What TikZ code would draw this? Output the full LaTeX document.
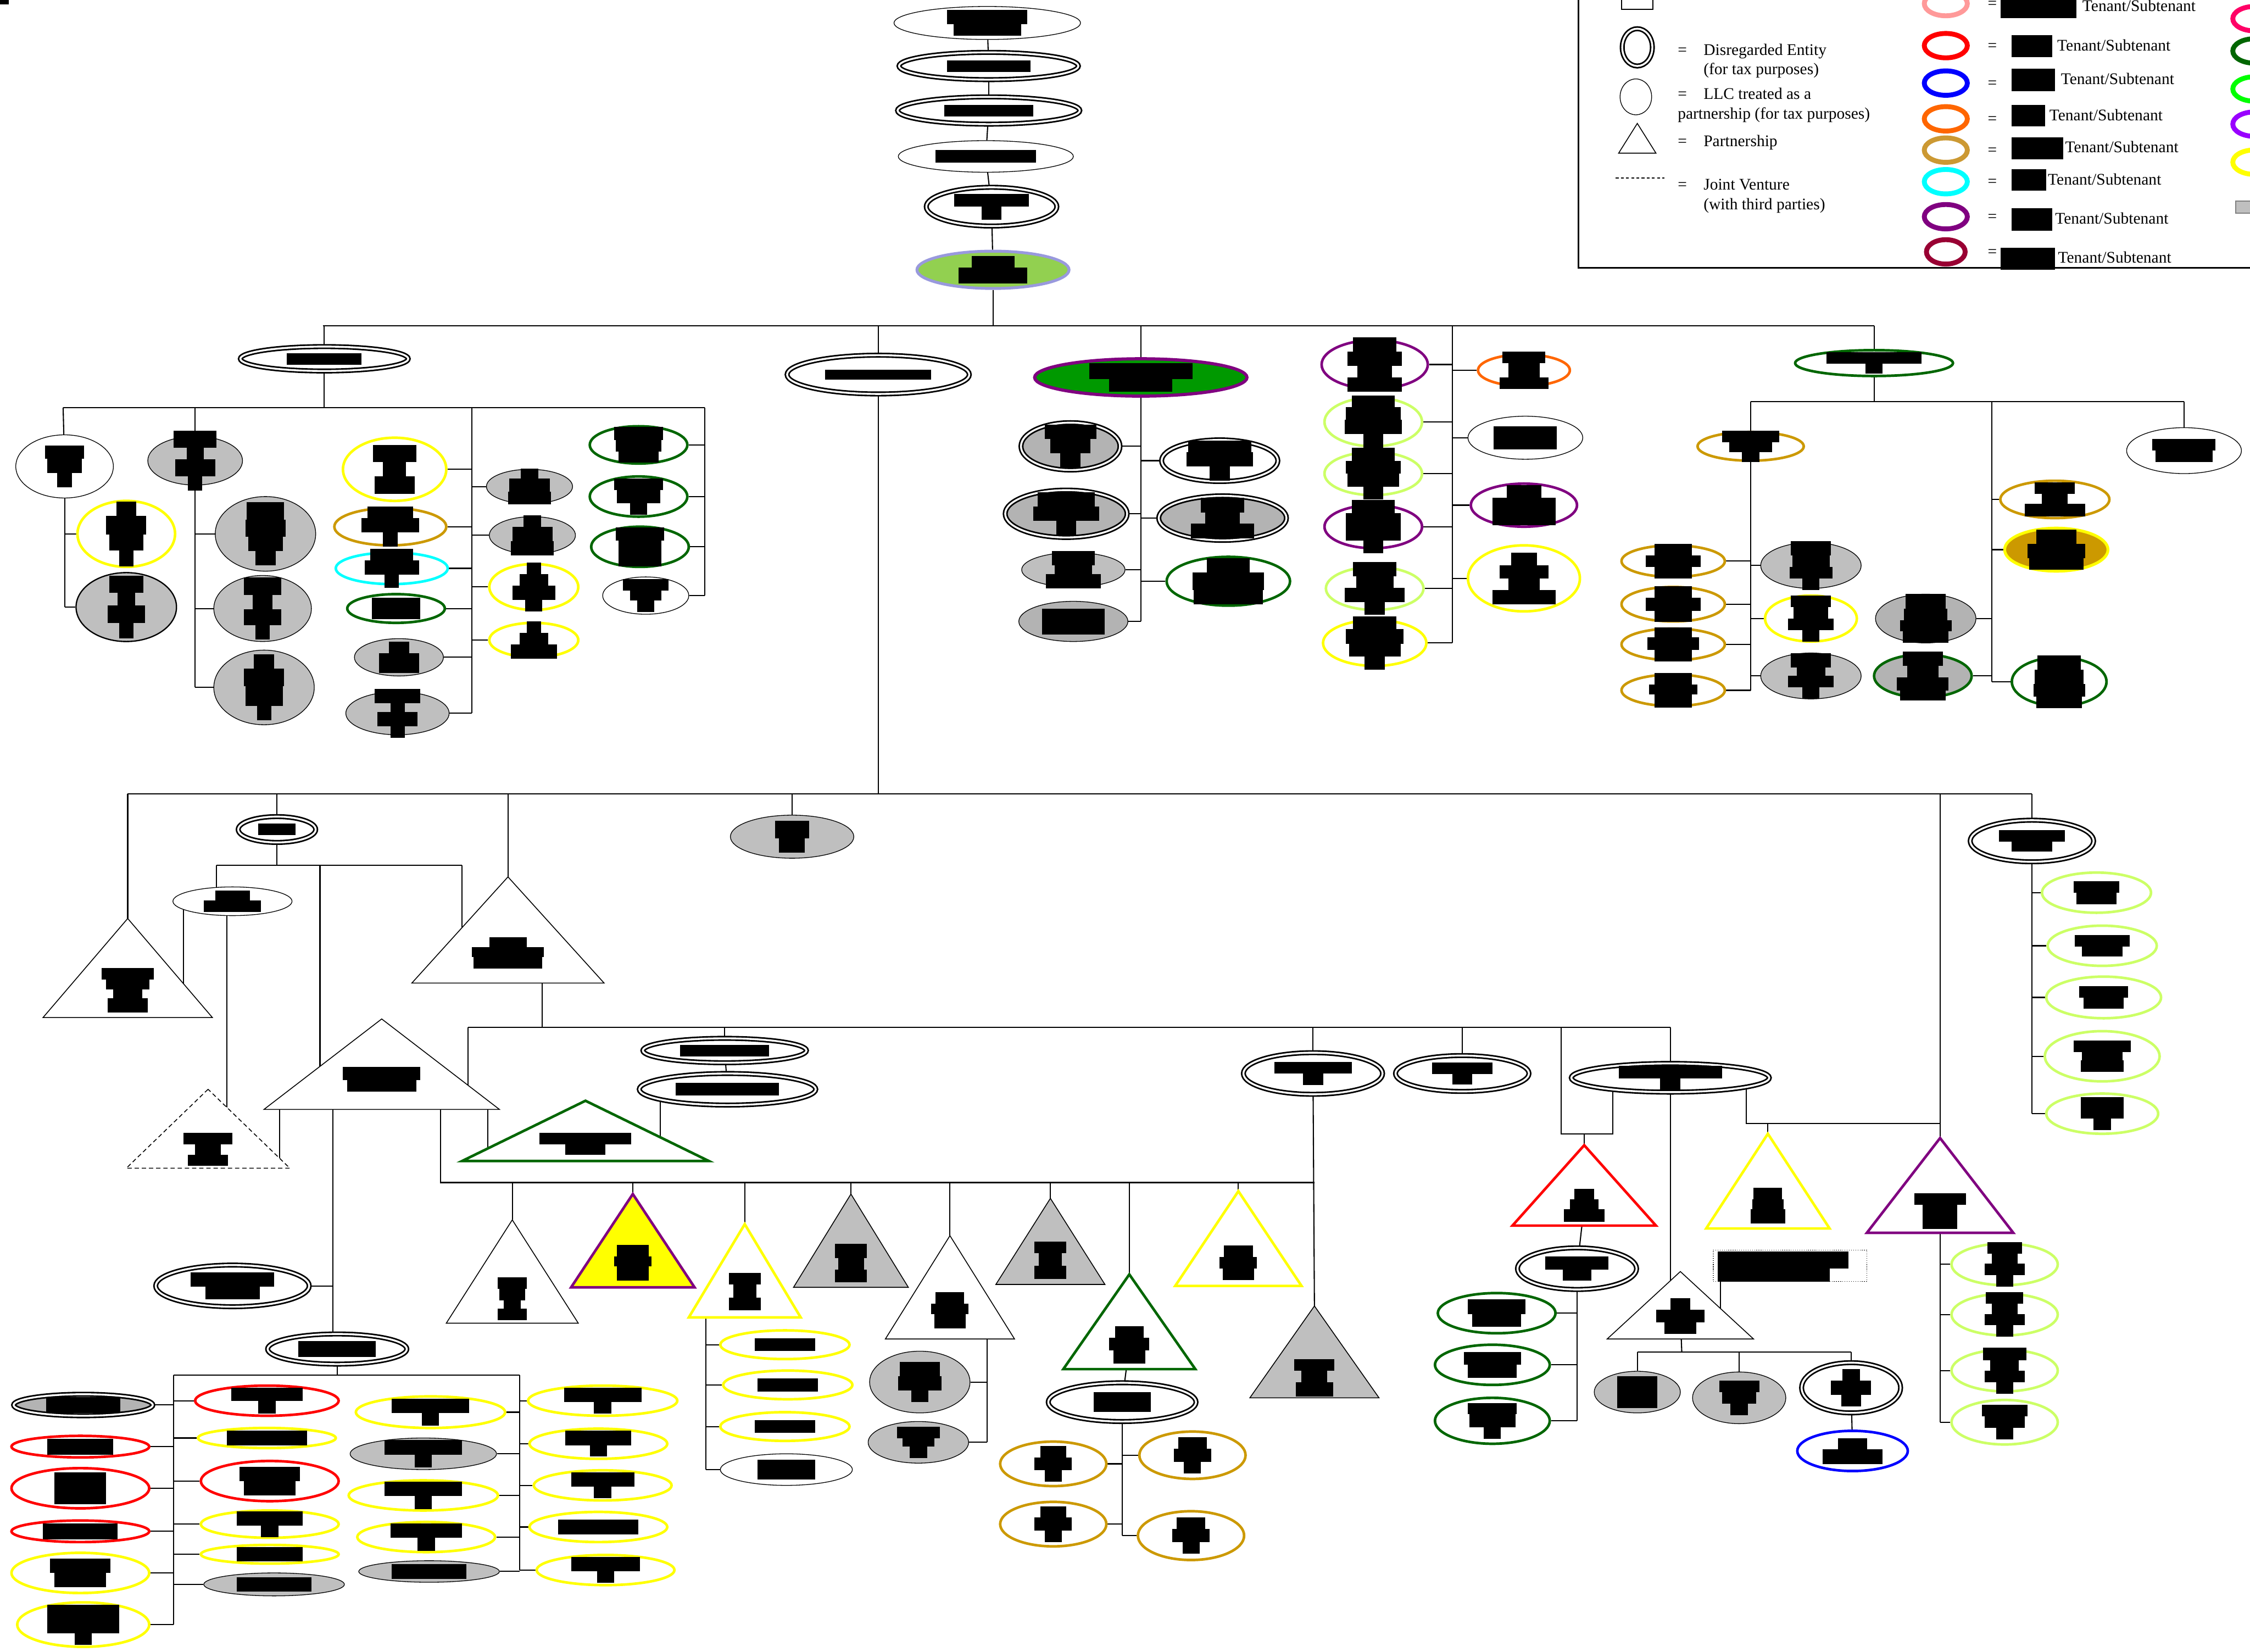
\documentclass[tikz,border=0pt]{standalone}
\usepackage{fontspec}
\setmainfont{Liberation Serif}
\usetikzlibrary{shapes.geometric,backgrounds}
\definecolor{gry}{RGB}{191,191,191}
\definecolor{gry2}{RGB}{179,179,179}
\definecolor{ctan}{RGB}{204,153,0}
\definecolor{ctanL}{RGB}{204,153,51}
\definecolor{dgreen}{RGB}{0,102,0}
\definecolor{lgreen}{RGB}{204,255,102}
\definecolor{purp}{RGB}{128,0,128}
\definecolor{orng}{RGB}{255,102,0}
\definecolor{gfill}{RGB}{0,153,0}
\definecolor{tgreen}{RGB}{146,208,80}
\definecolor{lav}{RGB}{153,153,221}
\definecolor{cpink}{RGB}{255,153,153}
\definecolor{dred}{RGB}{153,0,51}
\definecolor{cmag}{RGB}{255,0,102}
\definecolor{bgreen}{RGB}{0,255,0}
\definecolor{viol}{RGB}{153,0,255}
\definecolor{ccyan}{RGB}{0,255,255}
\definecolor{cyel}{RGB}{255,255,0}
\tikzset{
  ent/.style={ellipse,inner sep=0pt,draw=black,line width=0.5pt,fill=white},
  gr/.style={ellipse,inner sep=0pt,draw=black,line width=0.5pt,fill=gry},
  grb/.style={ellipse,inner sep=0pt,draw=black,line width=0.9pt,fill=gry},
  gr2/.style={ellipse,inner sep=0pt,draw=black,line width=0.5pt,fill=gry2},
  de/.style={ellipse,inner sep=0pt,draw=black,line width=1.1pt,double=white,double distance=1.3pt,fill=white},
  degr/.style={de,fill=gry2},
  ring/.style={ellipse,inner sep=0pt,draw=#1,line width=1.8pt,fill=white},
  gring/.style={ellipse,inner sep=0pt,draw=#1,line width=1.8pt,fill=gry2},
  topg/.style={ellipse,inner sep=0pt,draw=lav,line width=2pt,fill=tgreen},
  gtop/.style={ellipse,inner sep=0pt,draw=purp,line width=2.2pt,fill=gfill},
  tanfill/.style={ellipse,inner sep=0pt,draw=cyel,line width=2pt,fill=ctan},
  triw/.style={draw=black,line width=0.6pt,fill=white},
  trid/.style={draw=black,line width=0.6pt,fill=white,dash pattern=on 3pt off 2pt},
  trig/.style={draw=black,line width=0.6pt,fill=gry},
  tric/.style={draw=#1,line width=1.8pt,fill=white},
  trip/.style={draw=purp,line width=1.8pt,fill=cyel},
  lgt/.style={anchor=base west,inner sep=0pt,font=\fontsize{11.3}{13.5}\selectfont},
  lring/.style={ellipse,inner sep=0pt,draw=#1,line width=3.4pt,minimum width=30pt,minimum height=17pt},
  conn/.style={line width=0.8pt}
}
\newcommand\En[6]{\node[#6,minimum width=#4pt,minimum height=#5pt] (#1) at (#2,#3) {};}
\newcommand\Tri[7]{\coordinate (#1) at (#2,#3); \coordinate (#1-l) at ({#2-#5},#4); \coordinate (#1-r) at ({#2+#5},#4); \coordinate (#1c) at (#2,#7); \path[#6] (#1) -- (#1-l) -- (#1-r) -- cycle;}
\newcommand\blkR[3]{\fill[black] ([shift={({-(#2)/2},{-(#3)/2})}]#1.center) rectangle ++(#2,#3);}
\newcommand\blkB[5]{\path (#1.center) ++(0,{-(#3+#5)/2}) coordinate (bk);
  \fill[black] (bk) ++({-(#2)/2},0) rectangle ++(#2,#3);
  \fill[black] (bk) ++({-(#4)/2},#3) rectangle ++(#4,#5);}
\newcommand\blkC[7]{\path (#1.center) ++(0,{-(#3+#5+#7)/2}) coordinate (bk);
  \fill[black] (bk) ++({-(#2)/2},0) rectangle ++(#2,#3);
  \fill[black] (bk) ++({-(#4)/2},#3) rectangle ++(#4,#5);
  \fill[black] (bk) ++({-(#6)/2},{#3+#5}) rectangle ++(#6,#7);}
\newcommand\blkD[9]{\path (#1.center) ++(0,{-(#3+#5+#7+#9)/2}) coordinate (bk);
  \fill[black] (bk) ++({-(#2)/2},0) rectangle ++(#2,#3);
  \fill[black] (bk) ++({-(#4)/2},#3) rectangle ++(#4,#5);
  \fill[black] (bk) ++({-(#6)/2},{#3+#5}) rectangle ++(#6,#7);
  \fill[black] (bk) ++({-(#8)/2},{#3+#5+#7}) rectangle ++(#8,#9);}
\begin{document}
\begin{tikzpicture}[x=1pt,y=-1pt]
\useasboundingbox (0,0) rectangle (1568,1151);
\begin{pgfonlayer}{background}
\fill[white] (0,0) rectangle (1568,1151);
\end{pgfonlayer}
\fill[black] (0,0) rectangle (6,3);
% ---------------- top chain
\En{E1}{688}{16}{130}{23}{ent} \blkB{E1}{56}{10}{47}{8}
\En{E2}{689}{46}{125}{19}{de} \blkR{E2}{58}{8}
\En{E3}{689}{77}{127}{19}{de} \blkR{E3}{62}{8}
\En{E4}{687}{109}{122}{22}{ent} \blkR{E4}{70}{9}
\En{E5}{691}{144}{91}{27}{de} \blkB{E5}{52}{9}{14}{9}
\En{E6}{692}{188}{106}{26}{topg} \blkB{E6}{30}{8}{48}{11}
\coordinate (bAl) at (225,227); \coordinate (bAr) at (1306,227); \coordinate (pB) at (1012,227);
% ---------------- left group
\En{L1}{226}{250}{117}{17}{de} \blkR{L1}{52}{8}
\coordinate (lBl) at (44,284); \coordinate (lBr) at (491,284); \coordinate (lC) at (329,284);
\En{L2}{45}{325}{68}{44}{ent} \blkC{L2}{27}{9}{24}{10}{10}{10}
\En{L3}{88}{372}{68}{46}{ring=cyel} \blkD{L3}{14}{10}{28}{13}{24}{11}{10}{11}
\En{L4}{88}{423}{70}{48}{grb} \blkD{L4}{24}{12}{12}{9}{26}{12}{10}{11}
\En{L5}{136}{321}{66}{34}{gr} \blkD{L5}{30}{12}{12}{8}{28}{12}{10}{10}
\En{L6}{185}{372}{70}{52}{gr} \blkD{L6}{26}{12}{28}{12}{24}{10}{14}{10}
\En{L7}{183}{424}{68}{46}{gr} \blkD{L7}{26}{12}{14}{10}{26}{11}{10}{10}
\En{L8}{184}{479}{70}{52}{gr} \blkD{L8}{14}{10}{28}{12}{26}{14}{10}{10}
\En{L9}{275}{327}{72}{44}{ring=cyel} \blkC{L9}{30}{12}{16}{10}{28}{12}
\En{L10}{272}{367}{78}{26}{ring=ctan} \blkC{L10}{32}{8}{40}{10}{10}{10}
\En{L11}{273}{396}{78}{22}{ring=ccyan} \blkC{L11}{30}{8}{38}{10}{10}{9}
\En{L12}{276}{424}{68}{20}{ring=dgreen} \blkR{L12}{34}{15}
\En{L13}{278}{458}{62}{26}{gr} \blkB{L13}{14}{8}{28}{14}
\En{L14}{277}{497}{72}{30}{gr} \blkD{L14}{32}{10}{10}{6}{28}{10}{10}{8}
\En{L15}{369}{339}{60}{24}{gr} \blkC{L15}{12}{7}{28}{9}{30}{9}
\En{L16}{371}{373}{60}{26}{gr} \blkC{L16}{12}{8}{28}{10}{30}{10}
\En{L17}{372}{409}{62}{32}{ring=cyel} \blkD{L17}{10}{8}{20}{8}{30}{10}{12}{8}
\En{L18}{372}{446}{62}{24}{ring=cyel} \blkC{L18}{10}{8}{20}{8}{32}{10}
\En{L19}{445}{310}{68}{26}{ring=dgreen} \blkC{L19}{34}{9}{32}{8}{28}{8}
\En{L20}{445}{346}{68}{28}{ring=dgreen} \blkC{L20}{34}{8}{30}{9}{12}{8}
\En{L21}{446}{381}{68}{28}{ring=dgreen} \blkC{L21}{34}{9}{30}{9}{30}{9}
\En{L22}{450}{415}{60}{26}{ent} \blkC{L22}{32}{8}{22}{7}{12}{8}
% ---------------- middle group
\En{M1}{612}{261}{127}{27}{de} \blkR{M1}{74}{7}
\En{G1}{795}{263}{148}{26}{gtop} \blkB{G1}{72}{11}{44}{9}
\En{G2}{746}{311}{69}{33}{degr} \blkC{G2}{36}{10}{28}{10}{14}{10}
\En{G3}{743}{358}{85}{33}{degr} \blkC{G3}{40}{10}{46}{10}{14}{10}
\En{G4}{748}{397}{72}{24}{gr} \blkC{G4}{30}{10}{26}{6}{38}{10}
\En{G5}{748}{433}{76}{28}{gr2} \blkR{G5}{44}{18}
\En{G6}{850}{321}{81}{29}{de} \blkC{G6}{44}{8}{46}{10}{14}{10}
\En{G7}{852}{361}{89}{31}{degr} \blkC{G7}{30}{10}{24}{8}{44}{10}
\En{G8}{856}{405}{86}{34}{ring=dgreen} \blkC{G8}{30}{10}{50}{12}{48}{10}
% ---------------- purple / light green group
\En{P1}{958}{254}{74}{34}{ring=purp} \blkD{P1}{30}{10}{38}{10}{24}{8}{38}{10}
\En{P2}{957}{294}{68}{34}{ring=lgreen} \blkD{P2}{30}{8}{38}{9}{40}{10}{14}{10}
\En{P3}{957}{330}{68}{30}{ring=lgreen} \blkD{P3}{30}{9}{38}{9}{36}{9}{14}{9}
\En{P4}{957}{367}{68}{30}{ring=purp} \blkC{P4}{30}{9}{38}{19}{14}{9}
\En{P5}{958}{410}{68}{30}{ring=lgreen} \blkD{P5}{30}{10}{26}{8}{42}{10}{14}{9}
\En{P6}{958}{448}{72}{32}{ring=cyel} \blkD{P6}{30}{9}{40}{10}{36}{9}{14}{9}
\En{P7}{1062}{258}{64}{22}{ring=orng} \blkC{P7}{30}{8}{22}{10}{34}{8}
\En{P8}{1063}{305}{80}{30}{ent} \blkR{P8}{44}{16}
\En{P9}{1062}{352}{74}{30}{ring=purp} \blkC{P9}{24}{9}{44}{9}{44}{10}
\En{P10}{1062}{403}{78}{46}{ring=cyel} \blkD{P10}{18}{9}{34}{9}{22}{8}{44}{10}
% ---------------- right group
\En{R1}{1306}{253}{110}{18}{ring=dgreen} \blkB{R1}{66}{8}{12}{7}
\coordinate (rBl) at (1220,280); \coordinate (rBr) at (1522,280); \coordinate (rM) at (1388,280);
\En{R2}{1220}{311}{74}{20}{ring=ctan} \blkC{R2}{40}{8}{30}{7}{12}{7}
\En{R3}{1522}{314}{80}{32}{ent} \blkB{R3}{44}{8}{40}{8}
\En{R4}{1166}{391}{72}{22}{ring=ctan} \blkC{R4}{26}{8}{38}{8}{26}{8}
\En{R5}{1166}{421}{72}{24}{ring=ctan} \blkC{R5}{26}{8}{38}{9}{26}{8}
\En{R6}{1166}{449}{72}{22}{ring=ctan} \blkC{R6}{26}{7}{36}{9}{26}{8}
\En{R7}{1166}{481}{72}{22}{ring=ctan} \blkC{R7}{26}{8}{34}{7}{26}{9}
\En{R8}{1262}{394}{70}{32}{gr} \blkD{R8}{28}{10}{26}{8}{30}{8}{12}{8}
\En{R9}{1262}{431}{64}{32}{ring=cyel} \blkD{R9}{28}{8}{24}{8}{32}{8}{12}{8}
\En{R10}{1262}{471}{70}{32}{gr} \blkD{R10}{28}{10}{20}{6}{32}{8}{12}{8}
\En{R11}{1342}{431}{70}{34}{gr2} \blkD{R11}{28}{10}{30}{8}{36}{8}{32}{8}
\En{R12}{1340}{471}{68}{30}{gring=dgreen} \blkD{R12}{28}{10}{22}{8}{36}{9}{32}{7}
\En{R13}{1432}{348}{76}{26}{ring=ctan} \blkC{R13}{28}{8}{18}{7}{42}{9}
\En{R14}{1433}{383}{72}{30}{tanfill} \blkC{R14}{28}{10}{40}{10}{38}{8}
\En{R15}{1435}{475}{66}{34}{ring=dgreen} \blkD{R15}{30}{10}{34}{10}{36}{9}{32}{8}
% ---------------- bottom part
\coordinate (bBl) at (89,553); \coordinate (bBr) at (1416,553); \coordinate (bBq) at (1352,553);
\En{B1}{193}{578}{54}{18}{de} \blkR{B1}{26}{8}
\En{B2}{552}{583}{86}{30}{gr} \blkB{B2}{24}{12}{18}{10}
\En{B3}{1416}{586}{86}{29}{de} \blkB{B3}{46}{8}{28}{7}
\coordinate (cAl) at (151,603); \coordinate (cAr) at (322,603); \coordinate (cAm) at (223,603);
\En{B4}{162}{628}{83}{20}{ent} \blkB{B4}{24}{7}{40}{8}
\Tri{T1}{89}{640}{709}{59}{triw}{690} \blkD{T1c}{36}{8}{30}{7}{20}{6}{28}{10}
\Tri{T2}{354}{611}{685}{67}{triw}{664} \blkC{T2c}{26}{7}{50}{7}{48}{8}
\Tri{T3}{266}{710}{773}{82}{triw}{752} \blkB{T3c}{54}{9}{48}{8}
\Tri{T4}{145}{759}{814}{57}{trid}{801} \blkC{T4c}{34}{8}{18}{7}{28}{8}
\Tri{T5}{408}{767}{809}{86}{tric=dgreen}{797} \blkB{T5c}{64}{8}{28}{7}
\coordinate (dAl) at (326,716); \coordinate (dAr) at (1164,716);
\coordinate (eAl) at (307,824); \coordinate (eAr) at (916,824);
\En{B5}{505}{732}{114}{17}{de} \blkR{B5}{62}{8}
\En{B6}{507}{759}{123}{22}{de} \blkR{B6}{72}{9}
\En{B7}{915}{748}{97}{29}{de} \blkB{B7}{54}{8}{14}{8}
\En{B8}{1019}{748}{93}{25}{de} \blkB{B8}{42}{8}{14}{7}
\En{B9}{1164}{751}{138}{20}{de} \blkB{B9}{72}{9}{14}{8}
\Tri{T7}{1104}{798}{854}{50}{tric=red}{840} \blkC{T7c}{14}{7}{20}{7}{28}{9}
\Tri{T8}{1232}{790}{856}{43}{tric=cyel}{840} \blkC{T8c}{20}{8}{22}{7}{24}{10}
\Tri{T9}{1352}{793}{859}{51}{tric=purp}{844} \blkC{T9c}{36}{8}{24}{7}{24}{10}
\Tri{T10}{1171}{886}{933}{51}{triw}{917} \blkC{T10c}{14}{8}{34}{9}{22}{8}
\node[draw=black,densely dotted,line width=0.5pt,inner sep=0pt,minimum width=107pt,minimum height=22pt] (BX) at (1247.5,882) {};
\fill[black] (1197,872) rectangle (1288,884); \fill[black] (1197,884) rectangle (1275,893);
\En{B10}{1141}{970}{60}{29}{gr} \blkR{B10}{28}{22}
\En{B11}{1212}{974}{65}{36}{gr} \blkC{B11}{28}{8}{24}{8}{12}{8}
\En{B12}{1290}{967}{69}{35}{de} \blkC{B12}{12}{8}{28}{10}{14}{8}
\En{B13}{1291}{1011}{77}{28}{ring=blue} \blkB{B13}{20}{8}{42}{10}
\En{B14}{1099}{884}{83}{29}{de} \blkB{B14}{44}{9}{20}{8}
\En{B15}{1043}{915}{82}{28}{ring=dgreen} \blkB{B15}{40}{10}{34}{9}
\En{B16}{1040}{951}{80}{28}{ring=dgreen} \blkB{B16}{40}{9}{34}{9}
\En{B17}{1040}{990}{80}{32}{ring=dgreen} \blkC{B17}{34}{8}{32}{9}{12}{8}
\En{B18}{1397}{881}{74}{29}{ring=lgreen} \blkD{B18}{24}{8}{18}{7}{28}{8}{12}{8}
\En{B19}{1397}{916}{74}{29}{ring=lgreen} \blkD{B19}{26}{8}{18}{7}{28}{8}{12}{8}
\En{B20}{1397}{955}{74}{29}{ring=lgreen} \blkD{B20}{30}{9}{20}{7}{28}{8}{12}{8}
\En{B21}{1397}{991}{74}{31}{ring=lgreen} \blkC{B21}{32}{8}{28}{8}{12}{8}
\En{B22}{1461}{622}{76}{28}{ring=lgreen} \blkB{B22}{32}{8}{28}{8}
\En{B23}{1465}{659}{76}{28}{ring=lgreen} \blkB{B23}{38}{8}{28}{7}
\En{B24}{1466}{695}{80}{29}{ring=lgreen} \blkB{B24}{34}{8}{28}{8}
\En{B25}{1465}{736}{80}{35}{ring=lgreen} \blkC{B25}{40}{8}{28}{6}{30}{8}
\En{B26}{1465}{776}{78}{28}{ring=lgreen} \blkC{B26}{30}{8}{30}{7}{12}{8}
\Tri{T11}{357}{850}{922}{46}{triw}{905} \blkD{T11c}{20}{8}{18}{8}{12}{6}{20}{8}
\Tri{T12}{441}{832}{897}{43}{trip}{880} \blkC{T12c}{22}{8}{26}{7}{22}{10}
\Tri{T13}{519}{853}{918}{39}{tric=cyel}{900} \blkC{T13c}{22}{8}{16}{9}{22}{9}
\Tri{T14}{593}{832}{897}{40}{trig}{880} \blkC{T14c}{22}{10}{18}{8}{22}{9}
\Tri{T15}{662}{861}{933}{45}{triw}{913} \blkC{T15c}{20}{8}{26}{7}{22}{10}
\Tri{T16}{732}{835}{895}{38}{trig}{878} \blkC{T16c}{22}{8}{16}{9}{22}{9}
\Tri{T17}{787}{888}{954}{46}{tric=dgreen}{937} \blkC{T17c}{20}{8}{28}{9}{22}{9}
\Tri{T18}{863}{830}{896}{44}{tric=cyel}{880} \blkC{T18c}{20}{8}{26}{8}{22}{8}
\Tri{T19}{916}{910}{974}{45}{trig}{960} \blkC{T19c}{28}{8}{18}{8}{26}{10}
\En{B27}{547}{937}{90}{20}{ring=cyel} \blkR{B27}{42}{9}
\En{B28}{549}{965}{90}{20}{ring=cyel} \blkR{B28}{42}{9}
\En{B29}{547}{994}{90}{20}{ring=cyel} \blkR{B29}{42}{9}
\En{B30}{548}{1024}{92}{22}{ent} \blkR{B30}{40}{14}
\En{B31}{641}{963}{70}{43}{gr} \blkC{B31}{28}{10}{30}{10}{12}{8}
\En{B32}{640}{1005}{70}{29}{gr} \blkC{B32}{30}{8}{22}{6}{12}{8}
\En{B33}{782}{977}{103}{27}{de} \blkR{B33}{40}{14}
\En{B34}{734}{1020}{74}{31}{ring=ctan} \blkC{B34}{18}{8}{26}{9}{12}{8}
\En{B35}{831}{1014}{74}{33}{ring=ctan} \blkC{B35}{20}{8}{26}{9}{12}{8}
\En{B36}{734}{1062}{74}{31}{ring=ctan} \blkC{B36}{18}{8}{26}{9}{12}{8}
\En{B37}{830}{1070}{74}{34}{ring=ctan} \blkC{B37}{20}{8}{26}{9}{12}{8}
\En{B38}{162}{896}{107}{29}{de} \blkB{B38}{58}{10}{38}{9}
\En{B39}{235}{940}{97}{21}{de} \blkR{B39}{54}{11}
\coordinate (gAl) at (121,958); \coordinate (gAr) at (362,958);
\En{B40}{58}{979}{97}{15}{degr} \blkR{B40}{52}{11}
\En{B41}{56}{1008}{96}{15}{ring=red} \blkR{B41}{46}{11}
\En{B42}{56}{1037}{96}{28}{ring=red} \blkR{B42}{36}{22}
\En{B43}{56}{1067}{96}{15}{ring=red} \blkR{B43}{52}{11}
\En{B44}{56}{1096}{96}{28}{ring=cyel} \blkB{B44}{42}{10}{36}{10}
\En{B45}{58}{1132}{92}{31}{ring=cyel} \blkB{B45}{50}{20}{12}{8}
\En{B46}{186}{976}{100}{21}{ring=red} \blkB{B46}{50}{9}{12}{9}
\En{B47}{186}{1002}{96}{14}{ring=cyel} \blkR{B47}{56}{10}
\En{B48}{188}{1032}{96}{28}{ring=red} \blkB{B48}{42}{10}{36}{10}
\En{B49}{188}{1062}{96}{19}{ring=cyel} \blkB{B49}{46}{10}{12}{8}
\En{B50}{188}{1083}{96}{13}{ring=cyel} \blkR{B50}{46}{10}
\En{B51}{191}{1104}{98}{16}{gr} \blkR{B51}{52}{10}
\En{B52}{300}{984}{104}{22}{ring=cyel} \blkB{B52}{54}{10}{12}{9}
\En{B53}{295}{1013}{102}{22}{gr} \blkB{B53}{54}{10}{12}{9}
\En{B54}{295}{1042}{104}{21}{ring=cyel} \blkB{B54}{54}{10}{12}{9}
\En{B55}{297}{1071}{96}{21}{ring=cyel} \blkB{B55}{50}{10}{12}{9}
\En{B56}{299}{1095}{98}{15}{gr} \blkR{B56}{52}{10}
\En{B57}{420}{976}{104}{21}{ring=cyel} \blkB{B57}{54}{10}{12}{8}
\En{B58}{417}{1006}{96}{21}{ring=cyel} \blkB{B58}{46}{10}{12}{8}
\En{B59}{420}{1035}{96}{21}{ring=cyel} \blkB{B59}{44}{10}{12}{8}
\En{B60}{417}{1064}{96}{21}{ring=cyel} \blkR{B60}{56}{10}
\En{B61}{422}{1094}{96}{21}{ring=cyel} \blkB{B61}{48}{10}{12}{8}
% free connector points
\coordinate (hB) at (1352,783); \coordinate (hBl) at (1217,783);
\coordinate (k1) at (128,628); \coordinate (k12) at (158,628);
\coordinate (T2b) at (378,685); \coordinate (k2) at (460,759);
\coordinate (k3) at (1088,716); \coordinate (k4) at (1124,790);
\coordinate (k5) at (340,773); \coordinate (k6) at (307,773);
\coordinate (k7) at (492,918); \coordinate (k8) at (688,933);
\coordinate (k9) at (232,773); \coordinate (k10) at (1199,893); \coordinate (k11) at (195,773);
\coordinate (hC) at (1172,942); \coordinate (hCl) at (1141,942); \coordinate (hCr) at (1290,942);
% ---------------- connectors
\begin{pgfonlayer}{background}
\begin{scope}[conn]
\draw (E1) -- (E2); \draw (E2) -- (E3); \draw (E3) -- (E4); \draw (E4) -- (E5); \draw (E5) -- (E6);
\draw (bAl) -- (bAr);
\draw (E6) -- (E6 |- bAl);
\draw (L1) -- (L1 |- bAl);
\draw (M1) -- (M1 |- bAl);
\draw (G1) -- (G1 |- bAl);
\draw (pB) -- (pB |- P6);
\draw (bAr) -- (R1);
\draw (L1) -- (L1 |- lBl);
\draw (lBl) -- (lBr);
\draw (lBl) -- (L2);
\draw (L2) -- (L2 |- L4);
\foreach \n in {L3,L4} \draw (\n) -- (\n -| L2);
\draw (L5 |- lBl) -- (L5); \draw (L5) -- (L5 |- L8);
\foreach \n in {L6,L7,L8} \draw (\n) -- (\n -| L5);
\draw (lC) -- (lC |- L14);
\foreach \n in {L9,L10,L11,L12,L13,L14,L15,L16,L17,L18} \draw (\n) -- (\n -| lC);
\draw (lBr) -- (lBr |- L22);
\foreach \n in {L19,L20,L21,L22} \draw (\n) -- (\n -| lBr);
\draw (G1) -- (G1 |- G5);
\foreach \n in {G2,G3,G4,G5,G6,G7,G8} \draw (\n) -- (\n -| G1);
\foreach \n in {P1,P2,P3,P4,P5,P6,P7,P8,P9,P10} \draw (\n) -- (\n -| pB);
\draw (R1) -- (R1 |- rBl); \draw (rBl) -- (rBr);
\draw (rBl) -- (R2); \draw (rBr) -- (R3); \draw (rM) -- (rM |- R15);
\draw (R2) -- (R2 |- R7);
\foreach \n in {R4,R5,R6,R7,R8,R9,R10} \draw (\n) -- (\n -| R2);
\foreach \n in {R11,R12,R13,R14,R15} \draw (\n) -- (\n -| rM);
% bottom
\draw (M1) -- (M1 |- bBl);
\draw (bBl) -- (bBr);
\draw (bBl) -- (T1);
\draw (B1) -- (B1 |- bBl);
\draw (T2) -- (T2 |- bBl);
\draw (B2) -- (B2 |- bBl);
\draw (B3) -- (B3 |- bBl);
\draw (bBq) -- (hB) -- (hBl) -- (hBl |- B9);
\draw (hB) -- (T9); \draw (T8 |- hB) -- (T8);
\draw (B1) -- (B1 |- cAl); \draw (cAl) -- (cAr);
\draw (cAl) -- (cAl |- B4); \draw (cAm) -- (cAm |- T3c); \draw (cAr) -- (cAr |- T2c);
\draw (k1) -- (k1 |- T1c); \draw (k12) -- (k12 |- T4c);
\draw (T2b) -- (T2b |- dAl); \draw (dAl) -- (dAr); \draw (dAl) -- ++(0,46);
\draw (B5) -- (B5 |- dAl); \draw (B5) -- (B6);
\draw (k2) -- ++(0,40);
\draw (B7) -- (B7 |- dAl); \draw (B8) -- (B8 |- dAl); \draw (B9) -- (B9 |- dAl);
\draw (k3) -- (k3 |- k4) -- (k4) -- (k4 |- B9); \draw (T7 |- k4) -- (T7);
\draw (B9) -- (B9 |- T10c);
\draw (k5) -- ++(0,32); \draw (k11) -- ++(0,38);
\draw (k6) -- (k6 |- eAl) -- (eAr);
\draw (B7) -- (T19);
\foreach \t in {T11,T12,T13,T14,T15,T16,T17,T18} \draw (\t |- eAl) -- (\t);
\draw (k7) -- (k7 |- B30);
\foreach \n in {B27,B28,B29,B30} \draw (\n) -- (\n -| k7);
\draw (k8) -- (k8 |- B32);
\foreach \n in {B31,B32} \draw (\n) -- (\n -| k8);
\draw (T17c) -- (B33);
\draw (B33) -- (B33 |- B37);
\foreach \n in {B34,B35,B36,B37} \draw (\n) -- (\n -| B33);
\draw (k9) -- (k9 |- B39); \draw (B38) -- (B38 -| k9);
\draw (B39) -- (B39 |- gAl); \draw (gAl) -- (gAr);
\draw (gAl) -- (gAl |- B45); \draw (gAr) -- (gAr |- B61);
\foreach \n in {B40,B41,B42,B43,B44,B45,B46,B47,B48,B49,B50,B51} \draw (\n) -- (\n -| gAl);
\foreach \n in {B52,B53,B54,B55,B56,B57,B58,B59,B60,B61} \draw (\n) -- (\n -| gAr);
\draw (T7c) -- (B14);
\draw (B14) -- (B14 |- B17);
\foreach \n in {B15,B16,B17} \draw (\n) -- (\n -| B14);
\draw (T9c) -- (T9c |- B21);
\foreach \n in {B18,B19,B20,B21} \draw (\n) -- (\n -| T9c);
\draw (T10c) -- (hC); \draw (hCl) -- (hCr);
\draw (hCl) -- (B10); \draw (B11 |- hC) -- (B11); \draw (hCr) -- (B12); \draw (B12) -- (B13);
\draw (k10) -- ++(0,24);
\draw (B3) -- (B3 |- B26);
\foreach \n in {B22,B23,B24,B25,B26} \draw (\n) -- (\n -| B3);
\end{scope}
\end{pgfonlayer}
% ---------------- legend
\draw[line width=1.2pt] (1100,-5) -- (1100,186.5) -- (1575,186.5);
\draw[line width=0.8pt] (1130,-15) rectangle (1152,6.5);
\node[de,minimum width=21pt,minimum height=26pt] (lg1) at (1141,33) {};
\node[ent,minimum width=22pt,minimum height=25pt] (lg2) at (1140,67.5) {};
\Tri{lg3}{1141}{86}{106.7}{13}{triw}{100}
\draw[line width=0.7pt,dash pattern=on 2pt off 1.6pt] (1126,124) -- (1160,124);
\node[lgt] (lq1) at (1169,38.5) {=};
\node[lgt] (lt1) at (1187,38.5) {Disregarded Entity};
\node[lgt] (lt2) at (1187,52) {(for tax purposes)};
\node[lgt] (lq2) at (1169,69) {=};
\node[lgt] (lt3) at (1187,69) {LLC treated as a};
\node[lgt] (lt4) at (1169,83) {partnership (for tax purposes)};
\node[lgt] (lq3) at (1169,102) {=};
\node[lgt] (lt5) at (1187,102) {Partnership};
\node[lgt] (lq4) at (1169,132.4) {=};
\node[lgt] (lt6) at (1187,132.4) {Joint Venture};
\node[lgt] (lt7) at (1187,146) {(with third parties)};
% colour rings
\node[lring=cpink] (lr1) at (1356,2.5) {};
\node[lring=red] (lr2) at (1356,31.8) {};
\node[lring=blue] (lr3) at (1356,57.9) {};
\node[lring=orng] (lr4) at (1356,82.8) {};
\node[lring=ctanL] (lr5) at (1356,104.6) {};
\node[lring=ccyan] (lr6) at (1356,126.6) {};
\node[lring=purp] (lr7) at (1356,151) {};
\node[lring=dred,minimum width=27pt] (lr8) at (1356,175.5) {};
\foreach \yy in {6,35.3,61.4,86.3,108.1,130.1,154.5,179} \node[lgt] at (1385,\yy) {=};
\fill[black] (1394,-5) rectangle (1447,12.7);
\fill[black] (1402,24.5) rectangle (1430,39.8);
\fill[black] (1402,48) rectangle (1432,63.4);
\fill[black] (1402,73) rectangle (1425,88);
\fill[black] (1402,95.7) rectangle (1438,111);
\fill[black] (1402,118) rectangle (1426,133);
\fill[black] (1402,145) rectangle (1430,160.6);
\fill[black] (1394,172.6) rectangle (1432,188);
\node[lgt] (ts1) at (1451,8) {Tenant/Subtenant};
\node[lgt] (ts2) at (1433.5,35.5) {Tenant/Subtenant};
\node[lgt] (ts3) at (1436,58.7) {Tenant/Subtenant};
\node[lgt] (ts4) at (1428,84) {Tenant/Subtenant};
\node[lgt] (ts5) at (1439,106.4) {Tenant/Subtenant};
\node[lgt] (ts6) at (1427,128.7) {Tenant/Subtenant};
\node[lgt] (ts7) at (1432,156) {Tenant/Subtenant};
\node[lgt] (ts8) at (1434,183) {Tenant/Subtenant};
\node[lring=cmag] (lr9) at (1571,13) {};
\node[lring=dgreen] (lr10) at (1571,35.5) {};
\node[lring=bgreen] (lr11) at (1571,62) {};
\node[lring=viol] (lr12) at (1571,86.5) {};
\node[lring=cyel] (lr13) at (1571,113) {};
\draw[fill=gry,draw=gray,line width=0.8pt] (1558,140) rectangle (1578,148.6);
\end{tikzpicture}
\end{document}
